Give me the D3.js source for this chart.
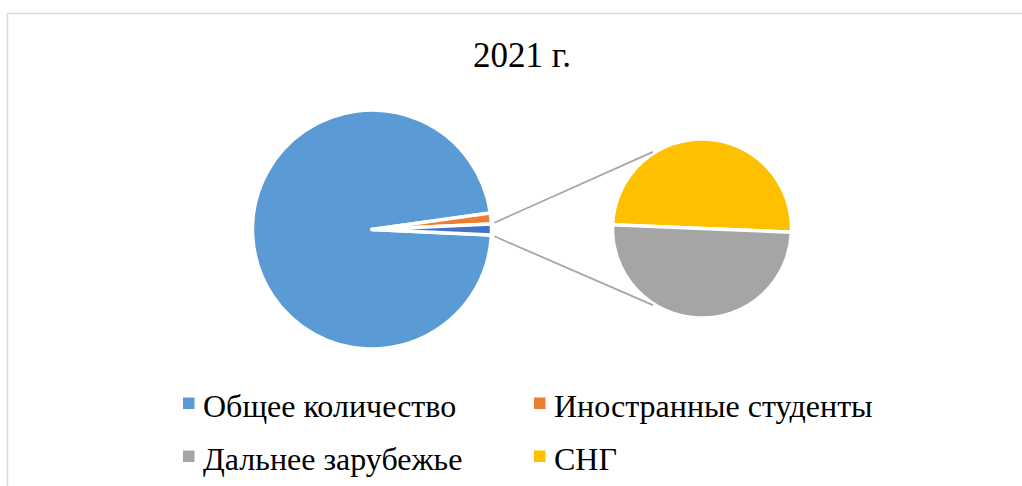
<!DOCTYPE html>
<html>
<head>
<meta charset="utf-8">
<script src="https://cdn.jsdelivr.net/npm/d3@7"></script>
<style>
  body { margin: 0; background: #fff; }
  svg { display: block; font-family: "Liberation Serif", "DejaVu Serif", serif; }
</style>
</head>
<body>
<div id="chart"></div>
<script>
// pie of pie: main pie + breakdown of foreign students
const title = "2021 г.";
const mainLabels = ["Общее количество", "Иностранные студенты"];
const mainValues = [7000, 106];
const subLabels = ["СНГ", "Дальнее зарубежье"];
const subValues = [52, 52];
const legendOrder = ["Общее количество", "Иностранные студенты", "Дальнее зарубежье", "СНГ"];

const colors = {
  "Общее количество": "#5B9BD5",
  "Иностранные студенты": "#ED7D31",
  "other": "#4472C4",
  "Дальнее зарубежье": "#A5A5A5",
  "СНГ": "#FFC000"
};

const width = 1022, height = 486;
const svg = d3.select("#chart").append("svg")
    .attr("width", width)
    .attr("height", height);

// chart area border
svg.append("rect")
    .attr("x", 7.5).attr("y", 13.5)
    .attr("width", 1100).attr("height", 600)
    .attr("fill", "none")
    .attr("stroke", "#d9d9d9")
    .attr("stroke-width", 1.5);

svg.append("text")
    .attr("x", 522).attr("y", 67)
    .attr("text-anchor", "middle")
    .attr("font-size", 35)
    .attr("fill", "#000")
    .text(title);

// main pie: the secondary total goes in as the "other" slice
const otherValue = d3.sum(subValues);
const mainData = mainLabels.map((k, i) => ({ key: k, value: mainValues[i] }))
    .concat([{ key: "other", value: otherValue }]);

const total = d3.sum(mainData, d => d.value);
const otherAngle = otherValue / total * 2 * Math.PI;
// rotate so the "other" slice sits at 3 o'clock
const mainStart = Math.PI / 2 + otherAngle / 2 - 2 * Math.PI;

const mainPie = d3.pie().sort(null).value(d => d.value)
    .startAngle(mainStart).endAngle(mainStart + 2 * Math.PI);
const mainArcs = mainPie(mainData);

const mc = { x: 372, y: 229.5 }, mr = 119.5;
const arcMain = d3.arc().innerRadius(0).outerRadius(mr);

svg.append("g")
    .attr("transform", `translate(${mc.x},${mc.y})`)
    .selectAll("path")
    .data(mainArcs)
    .join("path")
        .attr("d", arcMain)
        .attr("fill", d => colors[d.data.key])
        .attr("stroke", "#fff")
        .attr("stroke-width", 3.5)
        .attr("stroke-linejoin", "round");

// secondary pie
const sc = { x: 702, y: 228.5 }, sr = 89.5;
const subStart = -Math.PI / 2 + 0.042;
const subPie = d3.pie().sort(null)
    .startAngle(subStart).endAngle(subStart + 2 * Math.PI);
const subArcs = subPie(subValues);
const arcSub = d3.arc().innerRadius(0).outerRadius(sr);

svg.append("g")
    .attr("transform", `translate(${sc.x},${sc.y})`)
    .selectAll("path")
    .data(subArcs)
    .join("path")
        .attr("d", arcSub)
        .attr("fill", (d, i) => colors[subLabels[i]])
        .attr("stroke", "#fff")
        .attr("stroke-width", 3.5);

// connector lines from "other" slice edges to the secondary pie
const other = mainArcs[mainArcs.length - 1];
const pol = (c, r, a) => [c.x + r * Math.sin(a), c.y - r * Math.cos(a)];
const connectors = [
  [pol(mc, 122.5, other.startAngle - 0.01), pol(sc, 91, -0.57)],
  [pol(mc, 122.5, other.endAngle + 0.01), pol(sc, 91, Math.PI + 0.57)]
];
svg.append("g")
    .selectAll("line")
    .data(connectors)
    .join("line")
        .attr("x1", d => d[0][0]).attr("y1", d => d[0][1])
        .attr("x2", d => d[1][0]).attr("y2", d => d[1][1])
        .attr("stroke", "#A5A5A5")
        .attr("stroke-width", 1.75);

// legend, two columns
const legend = svg.append("g")
    .selectAll("g")
    .data(legendOrder)
    .join("g")
        .attr("transform", (d, i) => `translate(${i % 2 ? 534 : 183},${i < 2 ? 397.5 : 450.5})`);

legend.append("rect")
    .attr("width", 11.5).attr("height", 11.5)
    .attr("fill", d => colors[d]);

legend.append("text")
    .attr("x", 20).attr("y", 19.5)
    .attr("font-size", 32)
    .attr("fill", "#000")
    .text(d => d);
</script>
</body>
</html>
